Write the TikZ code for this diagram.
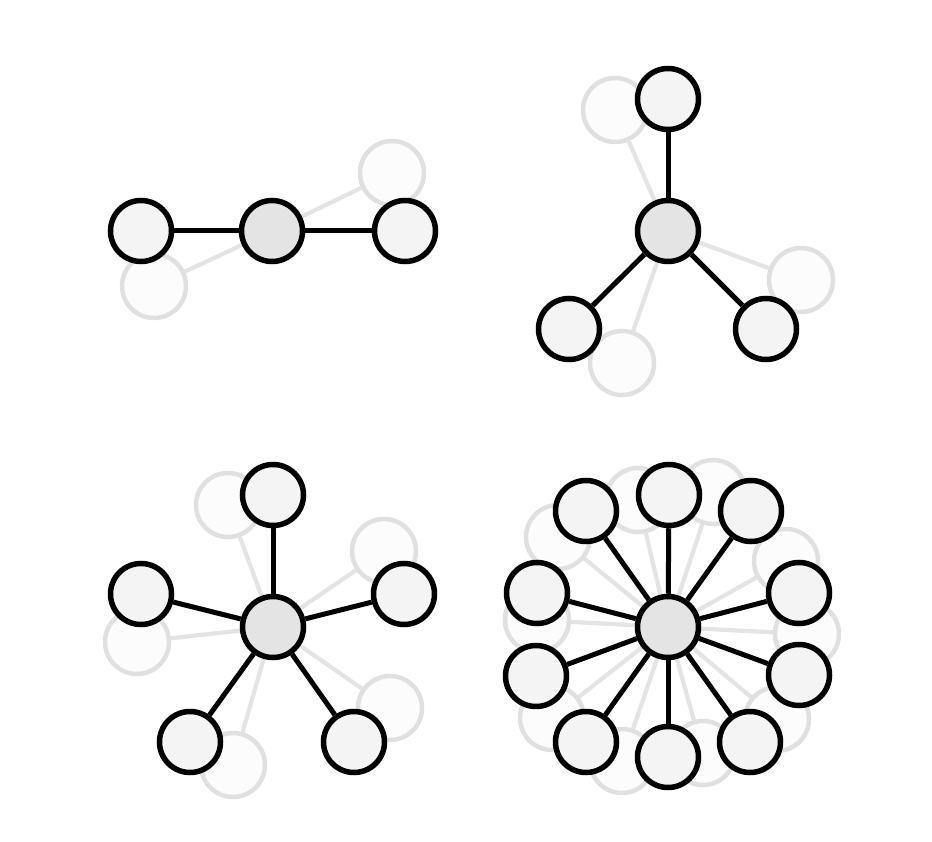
\documentclass[tikz,border=0pt]{standalone}
\pgfdeclarelayer{fe}
\pgfdeclarelayer{fn}
\pgfdeclarelayer{be}
\pgfsetlayers{fe,fn,be,main}
\definecolor{leaf}{HTML}{F4F4F4}
\definecolor{hub}{HTML}{E4E4E4}
\definecolor{ghostline}{HTML}{E0E0E0}
\definecolor{ghostfill}{HTML}{FCFCFC}
\definecolor{ghostedge}{HTML}{E4E4E4}
\tikzset{
  leafnode/.style={circle,draw=black,line width=5.5pt,fill=leaf,minimum size=61pt,inner sep=0pt},
  hubnode/.style={leafnode,fill=hub},
  ghostnode/.style={circle,draw=ghostline,line width=4.5pt,fill=ghostfill,minimum size=64pt,inner sep=0pt},
  edgeline/.style={draw=black,line width=5pt},
  ghostedgeline/.style={draw=ghostedge,line width=4.2pt}
}
\begin{document}
\begin{tikzpicture}[x=1pt,y=-1pt]
\useasboundingbox (0,0) rectangle (932,842);
% hubs
\node[hubnode] (c1) at (272,231) {};
\node[hubnode] (c2) at (668,231) {};
\node[hubnode] (c3) at (273,627) {};
\node[hubnode] (c4) at (668,627) {};
% panel 1
\foreach \p [count=\i] in {(141,231),(405,231)}
  \node[leafnode] (a\i) at \p {};
\begin{pgfonlayer}{fn}
\foreach \p [count=\i] in {(392,173),(154,286)}
  \node[ghostnode] (ga\i) at \p {};
\end{pgfonlayer}
% panel 2
\foreach \p [count=\i] in {(668,99),(569,329),(766,329)}
  \node[leafnode] (b\i) at \p {};
\begin{pgfonlayer}{fn}
\foreach \p [count=\i] in {(615,110),(801,280),(622,363)}
  \node[ghostnode] (gb\i) at \p {};
\end{pgfonlayer}
% panel 3
\foreach \p [count=\i] in {(273,495),(141,594),(404,594),(190,742),(354,742)}
  \node[leafnode] (d\i) at \p {};
\begin{pgfonlayer}{fn}
\foreach \p [count=\i] in {(228,505),(384,551),(137,642),(390,708),(233,765)}
  \node[ghostnode] (gd\i) at \p {};
\end{pgfonlayer}
% panel 4
\foreach \p [count=\i] in {(669,495),(751,511),(799,593),(799,675),(750,742),(668,757),(586,742),(536,676),(537,593),(586,511)}
  \node[leafnode] (e\i) at \p {};
\begin{pgfonlayer}{fn}
\foreach \p [count=\i] in {(638,500),(713,492),(558,537),(786,561),(537,620),(807,634),(552,718),(777,719),(622,761),(703,753)}
  \node[ghostnode] (ge\i) at \p {};
\end{pgfonlayer}
% edges
\begin{pgfonlayer}{be}
\foreach \i in {1,2} \draw[edgeline] (c1) -- (a\i);
\foreach \i in {1,...,3} \draw[edgeline] (c2) -- (b\i);
\foreach \i in {1,...,5} \draw[edgeline] (c3) -- (d\i);
\foreach \i in {1,...,10} \draw[edgeline] (c4) -- (e\i);
\end{pgfonlayer}
\begin{pgfonlayer}{fe}
\foreach \i in {1,2} \draw[ghostedgeline] (c1) -- (ga\i);
\foreach \i in {1,...,3} \draw[ghostedgeline] (c2) -- (gb\i);
\foreach \i in {1,...,5} \draw[ghostedgeline] (c3) -- (gd\i);
\foreach \i in {1,...,10} \draw[ghostedgeline] (c4) -- (ge\i);
\end{pgfonlayer}
\end{tikzpicture}
\end{document}
